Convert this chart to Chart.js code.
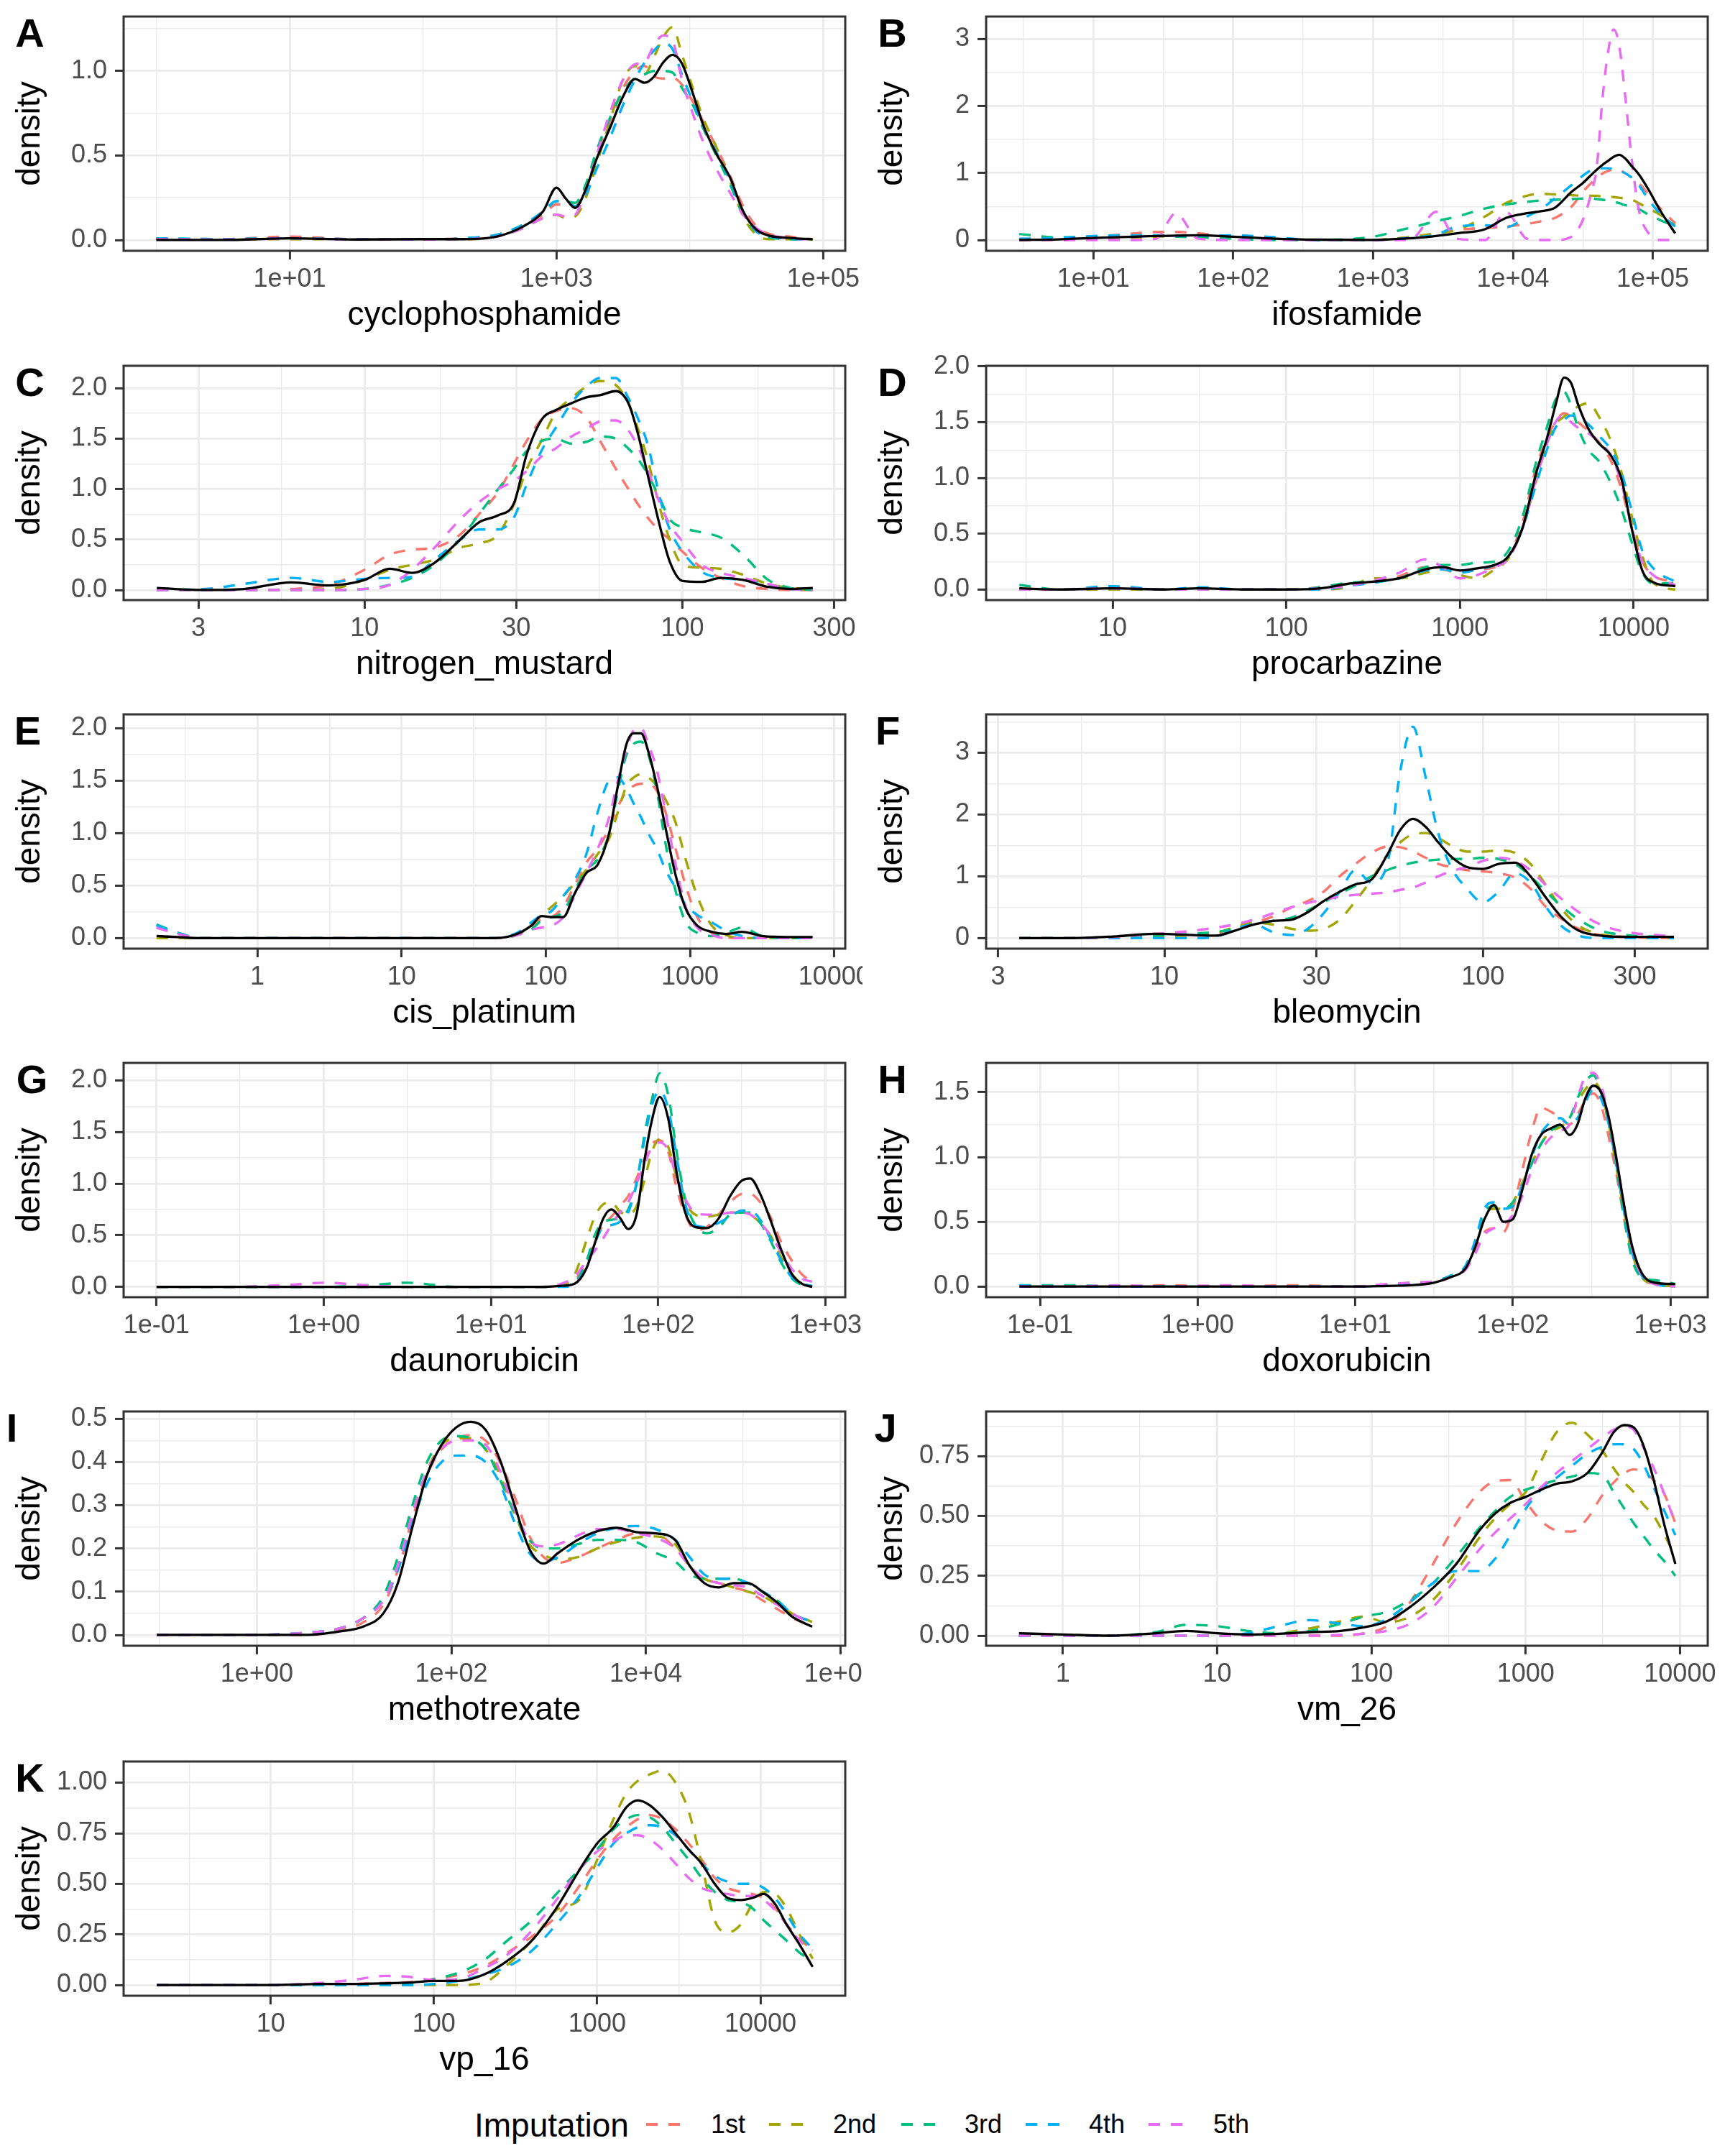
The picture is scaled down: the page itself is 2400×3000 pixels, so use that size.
<!DOCTYPE html>
<html>
<head>
<meta charset="utf-8">
<script src="https://cdn.jsdelivr.net/npm/chart.js@4.4.1/dist/chart.umd.min.js"></script>
<style>
html,body{margin:0;padding:0;background:#fff;}
#page{position:relative;width:2400px;height:3000px;background:#fff;overflow:hidden;font-family:'Liberation Sans',Arial,Helvetica,sans-serif;}
#page canvas{position:absolute;}
.lgtext{position:absolute;white-space:nowrap;line-height:1;color:#000;}
.lgdash{position:absolute;height:3.3px;}
</style>
</head>
<body>
<div id="page"></div>
<script>
// ---------------- series meta ----------------
const seriesNames  = ['1st', '2nd', '3rd', '4th', '5th'];
const seriesColors = ['#F8766D', '#A3A500', '#00BF7D', '#00B0F6', '#E76BF3'];
const legendTitle  = 'Imputation';

// ---------------- A: cyclophosphamide ----------------
const cycloX   = [1, 3.16, 10, 31.6, 100, 200, 355, 562, 794, 1000, 1175, 1380, 1660, 2000, 2510, 3160, 3890, 4570, 5370, 6310, 7410, 8710, 10500, 12600, 15800, 20000, 25100, 31600, 39800, 56200, 83200];
const cycloObs = [0,0,0.01,0.003,0.005,0.005,0.02,0.08,0.17,0.31,0.245,0.19,0.30,0.48,0.66,0.85,0.953,0.93,0.965,1.05,1.095,1.045,0.87,0.68,0.51,0.37,0.17,0.06,0.025,0.012,0.004];
const cyclo1   = [0.005,0.005,0.02,0.005,0.005,0.01,0.03,0.085,0.15,0.21,0.21,0.2,0.32,0.5,0.7,0.9,1.0,1.03,0.97,0.955,0.96,0.92,0.82,0.7,0.55,0.38,0.2,0.08,0.035,0.02,0.005];
const cyclo2   = [0.005,0.003,0.005,0.005,0.003,0.003,0.02,0.07,0.13,0.15,0.13,0.14,0.25,0.45,0.7,0.95,1.03,0.98,1.08,1.2,1.26,1.1,0.9,0.72,0.55,0.35,0.14,0.03,0.005,0.005,0.003];
const cyclo3   = [0.01,0.005,0.01,0.005,0.003,0.01,0.03,0.09,0.16,0.23,0.23,0.22,0.33,0.53,0.72,0.88,0.96,0.98,1.0,1.0,0.99,0.9,0.8,0.66,0.5,0.33,0.15,0.05,0.015,0.005,0.003];
const cyclo4   = [0.01,0.005,0.01,0.005,0.003,0.01,0.03,0.09,0.17,0.23,0.23,0.2,0.27,0.42,0.6,0.8,0.95,1.05,1.12,1.165,1.13,0.98,0.82,0.67,0.52,0.35,0.16,0.05,0.02,0.008,0.003];
const cyclo5   = [0.005,0.003,0.01,0.003,0.003,0.005,0.02,0.07,0.13,0.15,0.14,0.15,0.3,0.5,0.75,0.95,1.04,1.05,1.15,1.21,1.18,0.95,0.75,0.58,0.42,0.28,0.15,0.07,0.03,0.01,0.003];

// ---------------- B: ifosfamide ----------------
const ifosX   = [2.95, 5.6, 10, 20, 28.2, 38.9, 56, 100, 200, 398, 1000, 1585, 1995, 2818, 3981, 6310, 8913, 12589, 15849, 19953, 26303, 31623, 36308, 39811, 43652, 47863, 52481, 57544, 63096, 70795, 79433, 93325, 112202, 144544];
const ifosObs = [0, 0.01, 0.03, 0.05, 0.06, 0.065, 0.07, 0.05, 0.02, 0.005, 0.0, 0.02, 0.03, 0.06, 0.1, 0.16, 0.33, 0.4, 0.43, 0.48, 0.72, 0.85, 0.97, 1.05, 1.12, 1.18, 1.24, 1.27, 1.22, 1.1, 0.98, 0.75, 0.45, 0.1];
const ifos1   = [0.0, 0.02, 0.05, 0.1, 0.12, 0.12, 0.1, 0.05, 0.01, 0.0, 0.0, 0.03, 0.05, 0.1, 0.15, 0.18, 0.2, 0.24, 0.28, 0.33, 0.5, 0.72, 0.85, 0.93, 0.99, 1.03, 1.05, 1.04, 1.0, 0.93, 0.85, 0.68, 0.48, 0.25];
const ifos2   = [0, 0.0, 0.02, 0.04, 0.05, 0.06, 0.07, 0.06, 0.02, 0.0, 0.0, 0.03, 0.05, 0.1, 0.15, 0.35, 0.55, 0.66, 0.69, 0.68, 0.67, 0.66, 0.66, 0.66, 0.65, 0.65, 0.64, 0.63, 0.62, 0.6, 0.55, 0.47, 0.38, 0.22];
const ifos3   = [0.09, 0.04, 0.05, 0.06, 0.06, 0.05, 0.04, 0.02, 0.0, 0.0, 0.05, 0.15, 0.2, 0.28, 0.35, 0.47, 0.53, 0.57, 0.59, 0.6, 0.61, 0.62, 0.62, 0.61, 0.6, 0.59, 0.57, 0.55, 0.52, 0.5, 0.46, 0.38, 0.3, 0.2];
const ifos4   = [0.02, 0.03, 0.06, 0.07, 0.07, 0.06, 0.06, 0.07, 0.04, 0.0, 0.0, 0.02, 0.04, 0.08, 0.2, 0.22, 0.19, 0.35, 0.46, 0.62, 0.82, 0.96, 1.04, 1.06, 1.07, 1.07, 1.06, 1.04, 1.0, 0.93, 0.82, 0.6, 0.4, 0.2];
const ifos5   = [0, 0, 0, 0, 0.02, 0.4, 0.02, 0, 0, 0, 0, 0, 0.05, 0.42, 0.02, 0.0, 0.42, 0.02, 0, 0, 0.05, 0.3, 0.7, 1.1, 2.1, 2.8, 3.14, 2.9, 2.2, 1.2, 0.45, 0.1, 0.0, 0.0];

// ---------------- C: nitrogen_mustard ----------------
const nitroX   = [2.22, 3.16, 4.17, 5.89, 7.76, 10, 12.0, 14.1, 16.6, 20.0, 22.9, 26.3, 29.5, 32.4, 36.3, 39.8, 44.7, 50.1, 55.0, 61.7, 67.6, 72.4, 77.6, 85.1, 91.2, 100, 115, 132, 155, 186, 219, 257];
const nitroObs = [0.02, 0.0, 0.01, 0.075, 0.045, 0.1, 0.21, 0.17, 0.27, 0.5, 0.67, 0.74, 0.86, 1.35, 1.7, 1.78, 1.85, 1.91, 1.93, 1.97, 1.85, 1.55, 1.15, 0.62, 0.28, 0.09, 0.08, 0.12, 0.1, 0.03, 0.01, 0.02];
const nitro1   = [0.0, 0.0, 0.0, 0.01, 0.05, 0.2, 0.35, 0.4, 0.42, 0.55, 0.75, 0.97, 1.25, 1.48, 1.7, 1.77, 1.8, 1.7, 1.48, 1.2, 1.0, 0.85, 0.72, 0.58, 0.5, 0.38, 0.22, 0.12, 0.04, 0.01, 0.0, 0.0];
const nitro2   = [0, 0, 0, 0, 0.01, 0.1, 0.2, 0.25, 0.3, 0.42, 0.46, 0.55, 0.85, 1.2, 1.5, 1.75, 1.9, 2.02, 2.07, 2.03, 1.85, 1.6, 1.3, 0.8, 0.5, 0.25, 0.22, 0.21, 0.15, 0.06, 0.02, 0.0];
const nitro3   = [0, 0, 0, 0, 0, 0.01, 0.05, 0.12, 0.25, 0.5, 0.75, 1.0, 1.2, 1.38, 1.48, 1.5, 1.45, 1.47, 1.52, 1.5, 1.4, 1.3, 1.15, 0.9, 0.7, 0.62, 0.57, 0.52, 0.35, 0.1, 0.02, 0.0];
const nitro4   = [0, 0.01, 0.06, 0.12, 0.08, 0.11, 0.12, 0.13, 0.3, 0.5, 0.6, 0.6, 0.72, 1.05, 1.4, 1.6, 1.85, 2.02, 2.1, 2.1, 1.9, 1.7, 1.45, 0.9, 0.6, 0.38, 0.18, 0.12, 0.1, 0.05, 0.01, 0.0];
const nitro5   = [0, 0, 0, 0, 0, 0.01, 0.05, 0.2, 0.42, 0.7, 0.87, 1.0, 1.08, 1.18, 1.33, 1.4, 1.52, 1.6, 1.67, 1.68, 1.58, 1.42, 1.2, 0.85, 0.65, 0.48, 0.25, 0.17, 0.12, 0.06, 0.01, 0.0];

// ---------------- D: procarbazine ----------------
const procX   = [2.9, 5.0, 10, 20, 31.6, 56.2, 100, 158, 224, 316, 447, 631, 794, 1000, 1259, 1585, 1905, 2291, 2754, 3162, 3548, 3981, 4365, 4786, 5495, 6310, 7413, 8511, 9772, 11220, 13183, 17378];
const procObs = [0.01, 0.0, 0.01, 0.0, 0.01, 0.0, 0.0, 0.01, 0.05, 0.07, 0.1, 0.18, 0.2, 0.17, 0.19, 0.22, 0.3, 0.55, 1.05, 1.35, 1.65, 1.9, 1.85, 1.66, 1.44, 1.31, 1.2, 0.99, 0.54, 0.17, 0.06, 0.03];
const proc1   = [0.0, 0.0, 0.01, 0.0, 0.0, 0.0, 0.0, 0.02, 0.05, 0.07, 0.12, 0.2, 0.2, 0.17, 0.18, 0.2, 0.3, 0.6, 1.1, 1.35, 1.5, 1.58, 1.55, 1.5, 1.42, 1.32, 1.15, 0.9, 0.55, 0.25, 0.12, 0.07];
const proc2   = [0.0, 0.0, 0.0, 0.0, 0.0, 0.0, 0.0, 0.0, 0.02, 0.1, 0.1, 0.15, 0.18, 0.13, 0.1, 0.18, 0.28, 0.55, 0.98, 1.3, 1.48, 1.55, 1.6, 1.64, 1.67, 1.55, 1.33, 1.05, 0.65, 0.3, 0.05, 0.0];
const proc3   = [0.04, 0.0, 0.01, 0.0, 0.0, 0.0, 0.0, 0.02, 0.06, 0.07, 0.1, 0.2, 0.22, 0.22, 0.24, 0.25, 0.35, 0.65, 1.15, 1.45, 1.7, 1.77, 1.65, 1.45, 1.25, 1.15, 0.95, 0.72, 0.42, 0.15, 0.05, 0.06];
const proc4   = [0.0, 0.0, 0.03, 0.0, 0.02, 0.0, 0.0, 0.0, 0.03, 0.06, 0.1, 0.17, 0.18, 0.15, 0.18, 0.22, 0.3, 0.55, 0.95, 1.25, 1.45, 1.52, 1.56, 1.55, 1.48, 1.38, 1.25, 1.05, 0.7, 0.35, 0.18, 0.07];
const proc5   = [0.0, 0.0, 0.01, 0.0, 0.0, 0.0, 0.0, 0.01, 0.03, 0.08, 0.15, 0.27, 0.2, 0.1, 0.13, 0.2, 0.28, 0.55, 1.0, 1.3, 1.5, 1.56, 1.5, 1.45, 1.4, 1.32, 1.2, 0.95, 0.55, 0.25, 0.12, 0.04];

// ---------------- E: cis_platinum ----------------
const cisX   = [0.2, 0.282, 0.398, 1, 3.16, 10, 25.1, 44.7, 63.1, 79.4, 93.3, 110, 132, 158, 191, 229, 275, 316, 363, 407, 457, 513, 589, 676, 794, 933, 1122, 1413, 1778, 2291, 3162, 4677, 7079];
const cisObs = [0.02, 0.01, 0, 0, 0, 0, 0, 0, 0.04, 0.12, 0.21, 0.2, 0.2, 0.42, 0.62, 0.7, 1.0, 1.45, 1.85, 1.95, 1.95, 1.78, 1.45, 1.05, 0.6, 0.28, 0.12, 0.06, 0.04, 0.06, 0.02, 0.01, 0.01];
const cis1   = [0.1, 0.05, 0, 0, 0, 0, 0, 0, 0.03, 0.1, 0.18, 0.2, 0.3, 0.5, 0.72, 0.85, 1.05, 1.25, 1.4, 1.45, 1.47, 1.47, 1.4, 1.2, 0.85, 0.5, 0.2, 0.05, 0.01, 0, 0, 0, 0];
const cis2   = [0, 0, 0, 0, 0, 0, 0, 0, 0.03, 0.12, 0.22, 0.3, 0.4, 0.52, 0.65, 0.8, 0.95, 1.2, 1.45, 1.53, 1.56, 1.53, 1.45, 1.32, 1.1, 0.75, 0.4, 0.12, 0.03, 0, 0, 0, 0];
const cis3   = [0.13, 0.05, 0, 0, 0, 0, 0, 0, 0.03, 0.08, 0.17, 0.2, 0.25, 0.45, 0.65, 0.75, 1.0, 1.4, 1.75, 1.85, 1.87, 1.75, 1.4, 0.9, 0.45, 0.15, 0.05, 0.02, 0.05, 0.1, 0.02, 0, 0];
const cis4   = [0.12, 0.05, 0, 0, 0, 0, 0, 0, 0.05, 0.15, 0.22, 0.26, 0.4, 0.55, 0.8, 1.2, 1.5, 1.53, 1.42, 1.28, 1.15, 1.0, 0.85, 0.65, 0.48, 0.32, 0.22, 0.15, 0.07, 0.02, 0, 0, 0];
const cis5   = [0.1, 0.04, 0, 0, 0, 0, 0, 0, 0.03, 0.08, 0.1, 0.12, 0.2, 0.4, 0.62, 0.85, 1.15, 1.5, 1.8, 1.98, 2.0, 1.85, 1.6, 1.2, 0.7, 0.3, 0.1, 0.03, 0, 0, 0, 0, 0];

// ---------------- F: bleomycin ----------------
const bleoX   = [3.5, 5.01, 7.08, 9.33, 12.3, 14.5, 16.6, 19.1, 21.9, 25.1, 28.2, 31.6, 35.5, 39.8, 44.7, 50.1, 55.0, 60.3, 66.1, 72.4, 79.4, 89.1, 100, 112, 126, 141, 158, 178, 200, 234, 282, 398];
const bleoObs = [0, 0, 0.03, 0.07, 0.05, 0.04, 0.12, 0.22, 0.28, 0.3, 0.42, 0.6, 0.75, 0.87, 0.95, 1.35, 1.75, 1.93, 1.8, 1.55, 1.32, 1.15, 1.12, 1.2, 1.22, 1.0, 0.65, 0.32, 0.12, 0.04, 0.02, 0.02];
const bleo1   = [0, 0, 0.02, 0.05, 0.04, 0.05, 0.15, 0.25, 0.35, 0.5, 0.6, 0.75, 1.0, 1.2, 1.38, 1.48, 1.47, 1.4, 1.3, 1.2, 1.15, 1.1, 1.08, 1.05, 0.98, 0.8, 0.5, 0.3, 0.15, 0.05, 0.02, 0];
const bleo2   = [0, 0, 0.0, 0.02, 0.05, 0.08, 0.18, 0.25, 0.22, 0.15, 0.12, 0.15, 0.3, 0.6, 0.95, 1.35, 1.55, 1.68, 1.7, 1.62, 1.5, 1.4, 1.4, 1.42, 1.38, 1.2, 0.85, 0.45, 0.2, 0.06, 0.02, 0];
const bleo3   = [0, 0, 0.01, 0.04, 0.07, 0.1, 0.15, 0.22, 0.28, 0.33, 0.45, 0.58, 0.72, 0.85, 1.0, 1.1, 1.17, 1.22, 1.25, 1.27, 1.28, 1.28, 1.3, 1.28, 1.2, 1.0, 0.75, 0.5, 0.3, 0.12, 0.05, 0.02];
const bleo4   = [0, 0, 0, 0, 0, 0.02, 0.15, 0.22, 0.1, 0.05, 0.15, 0.4, 0.75, 1.1, 0.9, 1.2, 2.7, 3.42, 2.6, 1.7, 1.15, 0.8, 0.58, 0.75, 1.05, 0.9, 0.5, 0.18, 0.04, 0, 0, 0];
const bleo5   = [0, 0, 0.02, 0.07, 0.12, 0.17, 0.22, 0.3, 0.4, 0.5, 0.57, 0.62, 0.67, 0.7, 0.72, 0.74, 0.78, 0.82, 0.9, 1.0, 1.08, 1.15, 1.25, 1.3, 1.25, 1.1, 0.85, 0.62, 0.42, 0.22, 0.1, 0.03];

// ---------------- G: daunorubicin ----------------
const daunoX   = [0.1, 0.251, 0.631, 1, 2.0, 3.16, 6.31, 10, 20, 26.3, 31.6, 37.2, 41.7, 46.8, 52.5, 58.9, 66.1, 74.1, 83.2, 91.2, 102, 115, 129, 145, 166, 195, 229, 269, 316, 355, 407, 468, 537, 631, 724, 832];
const daunoObs = [0, 0, 0, 0, 0, 0, 0, 0, 0, 0.01, 0.03, 0.18, 0.42, 0.66, 0.75, 0.67, 0.56, 0.7, 1.25, 1.6, 1.84, 1.62, 1.1, 0.72, 0.58, 0.57, 0.66, 0.88, 1.03, 1.05, 0.9, 0.65, 0.38, 0.12, 0.03, 0.0];
const dauno1   = [0, 0, 0, 0, 0, 0, 0, 0, 0, 0.01, 0.06, 0.25, 0.45, 0.6, 0.68, 0.78, 0.88, 1.05, 1.25, 1.38, 1.42, 1.3, 0.95, 0.7, 0.55, 0.58, 0.7, 0.82, 0.9, 0.9, 0.82, 0.68, 0.45, 0.25, 0.12, 0.05];
const dauno2   = [0, 0, 0, 0, 0, 0, 0, 0, 0, 0.02, 0.12, 0.45, 0.68, 0.8, 0.82, 0.73, 0.7, 0.78, 1.05, 1.3, 1.43, 1.35, 1.05, 0.82, 0.7, 0.68, 0.7, 0.72, 0.72, 0.7, 0.62, 0.5, 0.3, 0.12, 0.04, 0.0];
const dauno3   = [0, 0, 0, 0, 0.02, 0.04, 0.0, 0, 0, 0.01, 0.04, 0.25, 0.5, 0.63, 0.65, 0.67, 0.75, 1.0, 1.5, 1.8, 2.07, 1.85, 1.3, 0.85, 0.6, 0.52, 0.57, 0.7, 0.72, 0.72, 0.62, 0.45, 0.25, 0.08, 0.02, 0.0];
const dauno4   = [0, 0, 0, 0, 0, 0, 0, 0, 0, 0, 0.03, 0.2, 0.42, 0.58, 0.6, 0.63, 0.72, 1.0, 1.45, 1.75, 1.9, 1.72, 1.25, 0.8, 0.6, 0.58, 0.62, 0.68, 0.74, 0.74, 0.65, 0.47, 0.27, 0.09, 0.03, 0.01];
const dauno5   = [0, 0, 0.02, 0.04, 0.01, 0, 0, 0, 0, 0.03, 0.1, 0.25, 0.35, 0.47, 0.6, 0.72, 0.82, 1.0, 1.2, 1.35, 1.4, 1.32, 1.05, 0.85, 0.72, 0.7, 0.7, 0.72, 0.72, 0.7, 0.62, 0.5, 0.35, 0.17, 0.08, 0.05];

// ---------------- H: doxorubicin ----------------
const doxoX   = [0.0741, 0.158, 0.316, 0.631, 1.58, 3.98, 10, 15.8, 22.4, 31.6, 39.8, 50.1, 57.5, 66.1, 75.9, 87.1, 100, 115, 132, 151, 174, 200, 229, 257, 288, 324, 363, 407, 457, 513, 575, 661, 794, 1072];
const doxoObs = [0, 0, 0, 0, 0, 0, 0, 0.005, 0.01, 0.03, 0.07, 0.14, 0.3, 0.52, 0.63, 0.5, 0.52, 0.75, 1.02, 1.17, 1.22, 1.25, 1.17, 1.25, 1.45, 1.55, 1.5, 1.3, 0.97, 0.6, 0.3, 0.1, 0.03, 0.02];
const doxo1   = [0.0, 0.0, 0.0, 0.01, 0.0, 0.01, 0.0, 0.01, 0.02, 0.03, 0.07, 0.14, 0.28, 0.42, 0.45, 0.42, 0.6, 0.9, 1.2, 1.38, 1.35, 1.3, 1.25, 1.33, 1.43, 1.49, 1.4, 1.15, 0.85, 0.5, 0.25, 0.08, 0.04, 0.01];
const doxo2   = [0.0, 0.0, 0.0, 0.0, 0.0, 0.0, 0.0, 0.01, 0.03, 0.04, 0.08, 0.15, 0.3, 0.55, 0.6, 0.6, 0.65, 0.8, 0.95, 1.1, 1.2, 1.23, 1.3, 1.42, 1.52, 1.58, 1.5, 1.25, 0.9, 0.55, 0.25, 0.07, 0.02, 0.0];
const doxo3   = [0.01, 0.01, 0.0, 0.0, 0.0, 0.0, 0.0, 0.01, 0.02, 0.04, 0.08, 0.15, 0.32, 0.58, 0.62, 0.6, 0.65, 0.78, 0.95, 1.1, 1.2, 1.25, 1.3, 1.45, 1.58, 1.63, 1.5, 1.25, 0.9, 0.5, 0.2, 0.07, 0.05, 0.02];
const doxo4   = [0.01, 0.0, 0.0, 0.0, 0.0, 0.0, 0.0, 0.01, 0.02, 0.04, 0.08, 0.16, 0.35, 0.6, 0.65, 0.6, 0.62, 0.78, 1.0, 1.18, 1.27, 1.3, 1.25, 1.3, 1.42, 1.52, 1.45, 1.25, 0.92, 0.55, 0.25, 0.08, 0.02, 0.0];
const doxo5   = [0.0, 0.0, 0.01, 0.0, 0.01, 0.0, 0.0, 0.02, 0.03, 0.04, 0.07, 0.13, 0.25, 0.4, 0.45, 0.48, 0.55, 0.7, 0.9, 1.05, 1.15, 1.2, 1.25, 1.45, 1.62, 1.65, 1.55, 1.3, 0.95, 0.6, 0.28, 0.08, 0.02, 0.0];

// ---------------- I: methotrexate ----------------
const methoX   = [0.0933, 0.316, 1, 3.16, 7.08, 12.6, 20, 28.2, 39.8, 56.2, 79.4, 112, 158, 224, 316, 447, 631, 891, 1259, 1995, 3162, 5012, 7943, 12589, 19953, 28184, 39811, 56234, 79433, 112202, 158489, 223872, 316228, 512861];
const methoObs = [0, 0, 0, 0, 0.008, 0.02, 0.05, 0.12, 0.25, 0.37, 0.44, 0.48, 0.493, 0.475, 0.405, 0.3, 0.2, 0.165, 0.19, 0.22, 0.24, 0.248, 0.238, 0.235, 0.22, 0.16, 0.12, 0.11, 0.12, 0.12, 0.1, 0.075, 0.043, 0.019];
const metho1   = [0, 0, 0, 0.0, 0.01, 0.03, 0.07, 0.15, 0.27, 0.37, 0.43, 0.455, 0.462, 0.45, 0.4, 0.32, 0.23, 0.18, 0.167, 0.18, 0.2, 0.22, 0.235, 0.235, 0.2, 0.16, 0.13, 0.12, 0.11, 0.1, 0.08, 0.06, 0.04, 0.02];
const metho2   = [0, 0, 0, 0.005, 0.015, 0.04, 0.08, 0.16, 0.28, 0.38, 0.44, 0.455, 0.455, 0.43, 0.37, 0.28, 0.21, 0.185, 0.175, 0.18, 0.2, 0.215, 0.225, 0.228, 0.21, 0.16, 0.13, 0.12, 0.11, 0.1, 0.09, 0.07, 0.05, 0.03];
const metho3   = [0, 0, 0, 0.005, 0.015, 0.04, 0.09, 0.18, 0.3, 0.4, 0.45, 0.46, 0.455, 0.43, 0.36, 0.28, 0.22, 0.2, 0.2, 0.21, 0.22, 0.22, 0.215, 0.19, 0.17, 0.14, 0.13, 0.13, 0.13, 0.12, 0.1, 0.08, 0.05, 0.03];
const metho4   = [0, 0, 0, 0.005, 0.015, 0.04, 0.08, 0.15, 0.26, 0.35, 0.4, 0.415, 0.415, 0.4, 0.35, 0.26, 0.19, 0.17, 0.18, 0.21, 0.235, 0.248, 0.252, 0.245, 0.22, 0.18, 0.14, 0.13, 0.13, 0.12, 0.1, 0.08, 0.05, 0.03];
const metho5   = [0, 0, 0, 0.005, 0.015, 0.04, 0.08, 0.16, 0.28, 0.38, 0.43, 0.45, 0.45, 0.44, 0.38, 0.29, 0.22, 0.205, 0.21, 0.23, 0.245, 0.245, 0.235, 0.225, 0.2, 0.16, 0.13, 0.12, 0.115, 0.11, 0.09, 0.07, 0.05, 0.025];

// ---------------- J: vm_26 ----------------
const vmX   = [0.519, 1, 2.0, 3.98, 6.31, 10, 15.8, 25.1, 39.8, 63.1, 89.1, 126, 178, 251, 355, 501, 631, 794, 1000, 1259, 1585, 1995, 2512, 3162, 3715, 4365, 5012, 5754, 6761, 7943, 9333];
const vmObs = [0.01, 0.005, 0.0, 0.01, 0.02, 0.01, 0.005, 0.008, 0.015, 0.02, 0.035, 0.06, 0.12, 0.2, 0.3, 0.44, 0.51, 0.555, 0.58, 0.61, 0.635, 0.645, 0.68, 0.77, 0.85, 0.88, 0.87, 0.8, 0.65, 0.46, 0.3];
const vm1   = [0, 0, 0, 0, 0, 0, 0, 0, 0, 0, 0.01, 0.04, 0.14, 0.3, 0.47, 0.6, 0.645, 0.65, 0.56, 0.48, 0.44, 0.435, 0.49, 0.59, 0.64, 0.68, 0.695, 0.685, 0.65, 0.59, 0.47];
const vm2   = [0, 0, 0, 0, 0, 0, 0, 0.01, 0.03, 0.06, 0.08, 0.055, 0.08, 0.15, 0.27, 0.41, 0.49, 0.55, 0.6, 0.73, 0.85, 0.89, 0.84, 0.77, 0.7, 0.64, 0.6, 0.55, 0.5, 0.42, 0.33];
const vm3   = [0, 0, 0.0, 0.015, 0.045, 0.04, 0.02, 0.01, 0.02, 0.05, 0.08, 0.1, 0.15, 0.22, 0.33, 0.45, 0.52, 0.58, 0.61, 0.63, 0.65, 0.665, 0.68, 0.67, 0.6, 0.53, 0.47, 0.42, 0.36, 0.31, 0.25];
const vm4   = [0, 0, 0, 0, 0, 0, 0.01, 0.04, 0.065, 0.05, 0.04, 0.07, 0.14, 0.22, 0.27, 0.27, 0.32, 0.42, 0.53, 0.61, 0.66, 0.71, 0.76, 0.79, 0.8, 0.8, 0.78, 0.72, 0.62, 0.52, 0.42];
const vm5   = [0, 0, 0, 0, 0, 0, 0, 0, 0, 0.003, 0.008, 0.02, 0.05, 0.12, 0.24, 0.36, 0.43, 0.49, 0.55, 0.62, 0.68, 0.73, 0.78, 0.83, 0.86, 0.875, 0.86, 0.79, 0.7, 0.59, 0.47];

// ---------------- K: vp_16 ----------------
const vpX   = [2.0, 3.98, 10, 20, 31.6, 50.1, 70.8, 100, 141, 200, 282, 398, 562, 794, 1000, 1259, 1514, 1778, 2089, 2512, 3020, 3631, 4365, 5248, 6310, 7586, 8913, 10471, 12303, 14454, 17378, 20893];
const vpObs = [0.0, 0.0, 0.0, 0.005, 0.005, 0.008, 0.012, 0.02, 0.02, 0.05, 0.12, 0.22, 0.38, 0.58, 0.7, 0.78, 0.88, 0.913, 0.89, 0.83, 0.75, 0.67, 0.6, 0.5, 0.43, 0.42, 0.43, 0.45, 0.4, 0.3, 0.2, 0.09];
const vp1   = [0, 0, 0, 0, 0.005, 0.01, 0.015, 0.03, 0.05, 0.09, 0.16, 0.24, 0.34, 0.5, 0.62, 0.72, 0.78, 0.82, 0.84, 0.82, 0.77, 0.7, 0.62, 0.53, 0.48, 0.46, 0.45, 0.43, 0.38, 0.3, 0.23, 0.17];
const vp2   = [0, 0, 0, 0, 0, 0, 0, 0, 0, 0.01, 0.1, 0.22, 0.37, 0.43, 0.62, 0.82, 0.95, 1.01, 1.04, 1.06, 1.0, 0.86, 0.6, 0.32, 0.26, 0.3, 0.4, 0.46, 0.45, 0.38, 0.25, 0.13];
const vp3   = [0, 0, 0, 0, 0, 0.005, 0.01, 0.03, 0.06, 0.12, 0.22, 0.32, 0.45, 0.58, 0.67, 0.77, 0.82, 0.84, 0.83, 0.78, 0.7, 0.62, 0.53, 0.46, 0.42, 0.41, 0.38, 0.32, 0.27, 0.22, 0.16, 0.12];
const vp4   = [0, 0, 0, 0, 0, 0, 0, 0.005, 0.02, 0.05, 0.09, 0.17, 0.3, 0.45, 0.58, 0.7, 0.75, 0.78, 0.79, 0.78, 0.74, 0.67, 0.6, 0.54, 0.51, 0.5, 0.5, 0.48, 0.43, 0.35, 0.25, 0.18];
const vp5   = [0, 0, 0, 0.01, 0.025, 0.045, 0.04, 0.025, 0.03, 0.08, 0.15, 0.27, 0.42, 0.58, 0.66, 0.71, 0.74, 0.74, 0.72, 0.67, 0.6, 0.53, 0.48, 0.46, 0.45, 0.44, 0.44, 0.42, 0.37, 0.3, 0.22, 0.17];

// ---------------- tick sets ----------------
const xTicksA   = [10, 1000, 100000];               const xLabA   = ['1e+01','1e+03','1e+05'];          const xMinA   = [1, 100, 10000];
const xTicksB   = [10, 100, 1000, 10000, 100000];   const xLabB   = ['1e+01','1e+02','1e+03','1e+04','1e+05']; const xMinB = [3.162, 31.62, 316.2, 3162, 31623];
const xTicks3   = [3, 10, 30, 100, 300];            const xLab3   = ['3','10','30','100','300'];        const xMin3   = [5.477, 17.32, 54.77, 173.2];
const xTicksD   = [10, 100, 1000, 10000];           const xLabD   = ['10','100','1000','10000'];        const xMinD   = [3.162, 31.62, 316.2, 3162];
const xTicksE   = [1, 10, 100, 1000, 10000];        const xLabE   = ['1','10','100','1000','10000'];    const xMinE   = [0.3162, 3.162, 31.62, 316.2, 3162];
const xTicksG   = [0.1, 1, 10, 100, 1000];          const xLabG   = ['1e-01','1e+00','1e+01','1e+02','1e+03']; const xMinG = [0.3162, 3.162, 31.62, 316.2];
const xTicksI   = [1, 100, 10000, 1000000];         const xLabI   = ['1e+00','1e+02','1e+04','1e+06'];  const xMinI   = [0.1, 10, 1000, 100000];
const xTicksK   = [10, 100, 1000, 10000];           const xLabK   = ['10','100','1000','10000'];        const xMinK   = [3.162, 31.62, 316.2, 3162, 31623];

const yTicksA   = [0, 0.5, 1.0];                    const yLabA   = ['0.0','0.5','1.0'];                const yMinA   = [0.25, 0.75, 1.25];
const yTicksInt = [0, 1, 2, 3];                     const yLabInt = ['0','1','2','3'];                  const yMinInt = [0.5, 1.5, 2.5, 3.5];
const yTicks2   = [0, 0.5, 1.0, 1.5, 2.0];          const yLab2   = ['0.0','0.5','1.0','1.5','2.0'];    const yMin2   = [0.25, 0.75, 1.25, 1.75];
const yTicksH   = [0, 0.5, 1.0, 1.5];               const yLabH   = ['0.0','0.5','1.0','1.5'];          const yMinH   = [0.25, 0.75, 1.25];
const yTicksI   = [0, 0.1, 0.2, 0.3, 0.4, 0.5];     const yLabI   = ['0.0','0.1','0.2','0.3','0.4','0.5']; const yMinI = [0.05, 0.15, 0.25, 0.35, 0.45];
const yTicksJ   = [0, 0.25, 0.5, 0.75];             const yLabJ   = ['0.00','0.25','0.50','0.75'];      const yMinJ   = [0.125, 0.375, 0.625, 0.875];
const yTicksK   = [0, 0.25, 0.5, 0.75, 1.0];        const yLabK   = ['0.00','0.25','0.50','0.75','1.00']; const yMinK = [0.125, 0.375, 0.625, 0.875];

// ---------------- panels (axis limits in log10 for x) ----------------
const PANELS = [
  {letter:'A', title:'cyclophosphamide', col:0, row:0, x:cycloX, obs:cycloObs, imps:[cyclo1,cyclo2,cyclo3,cyclo4,cyclo5], xLog:[-0.245, 5.165], yLim:[-0.064, 1.322], xt:[xTicksA,xLabA,xMinA], yt:[yTicksA,yLabA,yMinA]},
  {letter:'B', title:'ifosfamide',       col:1, row:0, x:ifosX,  obs:ifosObs,  imps:[ifos1,ifos2,ifos3,ifos4,ifos5],       xLog:[0.233, 5.393],  yLim:[-0.161, 3.332], xt:[xTicksB,xLabB,xMinB], yt:[yTicksInt,yLabInt,yMinInt]},
  {letter:'C', title:'nitrogen_mustard', col:0, row:1, x:nitroX, obs:nitroObs, imps:[nitro1,nitro2,nitro3,nitro4,nitro5],  xLog:[0.242, 2.512],  yLim:[-0.1, 2.221],   xt:[xTicks3,xLab3,xMin3], yt:[yTicks2,yLab2,yMin2]},
  {letter:'D', title:'procarbazine',     col:1, row:1, x:procX,  obs:procObs,  imps:[proc1,proc2,proc3,proc4,proc5],       xLog:[0.271, 4.427],  yLim:[-0.095, 2.005], xt:[xTicksD,xLabD,xMinD], yt:[yTicks2,yLab2,yMin2]},
  {letter:'E', title:'cis_platinum',     col:0, row:2, x:cisX,   obs:cisObs,   imps:[cis1,cis2,cis3,cis4,cis5],            xLog:[-0.927, 4.076], yLim:[-0.1, 2.13],    xt:[xTicksE,xLabE,xMinE], yt:[yTicks2,yLab2,yMin2]},
  {letter:'F', title:'bleomycin',        col:1, row:2, x:bleoX,  obs:bleoObs,  imps:[bleo1,bleo2,bleo3,bleo4,bleo5],       xLog:[0.44, 2.706],   yLim:[-0.17, 3.62],   xt:[xTicks3,xLab3,xMin3], yt:[yTicksInt,yLabInt,yMinInt]},
  {letter:'G', title:'daunorubicin',     col:0, row:3, x:daunoX, obs:daunoObs, imps:[dauno1,dauno2,dauno3,dauno4,dauno5],  xLog:[-1.197, 3.118], yLim:[-0.1, 2.17],    xt:[xTicksG,xLabG,xMinG], yt:[yTicks2,yLab2,yMin2]},
  {letter:'H', title:'doxorubicin',      col:1, row:3, x:doxoX,  obs:doxoObs,  imps:[doxo1,doxo2,doxo3,doxo4,doxo5],       xLog:[-1.342, 3.237], yLim:[-0.082, 1.726], xt:[xTicksG,xLabG,xMinG], yt:[yTicksH,yLabH,yMinH]},
  {letter:'I', title:'methotrexate',     col:0, row:4, x:methoX, obs:methoObs, imps:[metho1,metho2,metho3,metho4,metho5],  xLog:[-1.37, 6.05],   yLim:[-0.025, 0.517], xt:[xTicksI,xLabI,xMinI], yt:[yTicksI,yLabI,yMinI]},
  {letter:'J', title:'vm_26',            col:1, row:4, x:vmX,    obs:vmObs,    imps:[vm1,vm2,vm3,vm4,vm5],                 xLog:[-0.498, 4.18],  yLim:[-0.042, 0.937], xt:[xTicksE,xLabE,xMinD], yt:[yTicksJ,yLabJ,yMinJ]},
  {letter:'K', title:'vp_16',            col:0, row:5, x:vpX,    obs:vpObs,    imps:[vp1,vp2,vp3,vp4,vp5],                 xLog:[0.098, 4.52],   yLim:[-0.053, 1.105], xt:[xTicksK,xLabK,xMinK], yt:[yTicksK,yLabK,yMinK]}
];

// ---------------- layout constants ----------------
const FONT = "'Liberation Sans', Arial, Helvetica, sans-serif";
const ROW_TOP = [0, 486, 971, 1456, 1941, 2428];
const CW = 1200, CH = 485;
const TICK_FS = 36, TITLE_FS = 46, LETTER_FS = 56;
Chart.defaults.font.family = FONT;

function buildTicks(major, labels, minor, lo, hi) {
  const eps = 1e-9;
  return major.map((v, i) => ({v, lab: labels[i], major: true}))
    .concat(minor.map(v => ({v, lab: '', major: false})))
    .filter(t => t.v >= lo - eps && t.v <= hi + eps)
    .sort((a, b) => a.v - b.v);
}

const framePlugin = {
  id: 'frame',
  afterDraw(chart, args, opts) {
    const {ctx, chartArea: a} = chart;
    ctx.save();
    ctx.strokeStyle = '#333333';
    ctx.lineWidth = 3;
    ctx.setLineDash([]);
    ctx.strokeRect(a.left, a.top, a.right - a.left, a.bottom - a.top);
    ctx.fillStyle = '#000';
    ctx.font = 'bold ' + LETTER_FS + 'px ' + FONT;
    ctx.textBaseline = 'alphabetic';
    ctx.textAlign = 'left';
    const w = ctx.measureText(opts.letter).width;
    ctx.fillText(opts.letter, w / 2 + 1, 65);
    ctx.restore();
  }
};

const page = document.getElementById('page');

function makePanel(p) {
  const cv = document.createElement('canvas');
  cv.width = CW; cv.height = CH;
  cv.style.left = (p.col * CW) + 'px';
  cv.style.top = ROW_TOP[p.row] + 'px';
  cv.style.width = CW + 'px'; cv.style.height = CH + 'px';
  page.appendChild(cv);

  const xmin = Math.pow(10, p.xLog[0]), xmax = Math.pow(10, p.xLog[1]);
  const xts = buildTicks(p.xt[0], p.xt[1], p.xt[2], xmin, xmax);
  const yts = buildTicks(p.yt[0], p.yt[1], p.yt[2], p.yLim[0], p.yLim[1]);

  const datasets = [{
    label: 'observed',
    data: p.x.map((x, i) => ({x: x, y: p.obs[i]})),
    borderColor: '#000000', borderWidth: 3.3, borderDash: [], order: 0
  }];
  p.imps.forEach((arr, k) => {
    datasets.push({
      label: seriesNames[k],
      data: p.x.map((x, i) => ({x: x, y: arr[i]})),
      borderColor: seriesColors[k], borderWidth: 3.4, borderDash: [16, 15], order: 5 - k
    });
  });

  const gridOpts = (ts) => ({
    display: true,
    drawOnChartArea: true,
    drawTicks: true,
    tickLength: 12,
    color: '#EBEBEB',
    lineWidth: c => (ts[c.index] && ts[c.index].major) ? 2.8 : 1.4,
    tickColor: c => (ts[c.index] && ts[c.index].major) ? '#333333' : 'rgba(0,0,0,0)',
    tickWidth: 3
  });

  new Chart(cv, {
    type: 'line',
    data: {datasets},
    options: {
      responsive: false,
      animation: false,
      devicePixelRatio: 1,
      events: [],
      layout: {padding: {left: 0, right: 24, top: 23, bottom: 0}},
      elements: {
        point: {radius: 0, hoverRadius: 0},
        line: {cubicInterpolationMode: 'monotone', borderJoinStyle: 'round', borderCapStyle: 'butt', fill: false}
      },
      plugins: {legend: {display: false}, tooltip: {enabled: false}, frame: {letter: p.letter}},
      scales: {
        x: {
          type: 'logarithmic', position: 'bottom', bounds: 'data',
          min: xmin, max: xmax,
          afterBuildTicks: s => { s.ticks = xts.map(t => ({value: t.v})); },
          afterFit: s => { s.height = CH - 349; s.paddingLeft = 0; s.paddingRight = 0; },
          ticks: {
            autoSkip: false, maxRotation: 0, minRotation: 0, padding: 6,
            color: '#4D4D4D', font: {family: FONT, size: TICK_FS},
            callback: (v, i) => xts[i] ? xts[i].lab : ''
          },
          grid: gridOpts(xts),
          border: {display: false},
          title: {display: true, text: p.title, color: '#000000', font: {family: FONT, size: TITLE_FS}, padding: {top: 0, bottom: 18}}
        },
        y: {
          type: 'linear', position: 'left', bounds: 'data',
          min: p.yLim[0], max: p.yLim[1],
          afterBuildTicks: s => { s.ticks = yts.map(t => ({value: t.v})); },
          afterFit: s => { s.width = 172; s.paddingTop = 0; s.paddingBottom = 0; },
          ticks: {
            autoSkip: false, padding: 11,
            color: '#4D4D4D', font: {family: FONT, size: TICK_FS},
            callback: (v, i) => yts[i] ? yts[i].lab : ''
          },
          grid: gridOpts(yts),
          border: {display: false},
          title: {display: true, text: 'density', color: '#000000', font: {family: FONT, size: TITLE_FS}, padding: {top: 15, bottom: 0}}
        }
      }
    },
    plugins: [framePlugin]
  });
}

PANELS.forEach(makePanel);

// ---------------- legend ----------------
(function legend() {
  const title = document.createElement('div');
  title.className = 'lgtext';
  title.textContent = legendTitle;
  title.style.fontSize = TITLE_FS + 'px';
  title.style.left = '660px';
  title.style.top = '2934px';
  page.appendChild(title);
  const keyLeft = [899, 1070, 1254, 1427, 1598];
  const labLeft = [989, 1159, 1342, 1515, 1688];
  seriesNames.forEach((name, k) => {
    [0, 31].forEach(off => {
      const d = document.createElement('div');
      d.className = 'lgdash';
      d.style.background = seriesColors[k];
      d.style.left = (keyLeft[k] + off) + 'px';
      d.style.top = '2954.4px';
      d.style.width = '16px';
      page.appendChild(d);
    });
    const t = document.createElement('div');
    t.className = 'lgtext';
    t.textContent = name;
    t.style.fontSize = TICK_FS + 'px';
    t.style.left = labLeft[k] + 'px';
    t.style.top = '2937.5px';
    page.appendChild(t);
  });
})();
</script>
</body>
</html>
